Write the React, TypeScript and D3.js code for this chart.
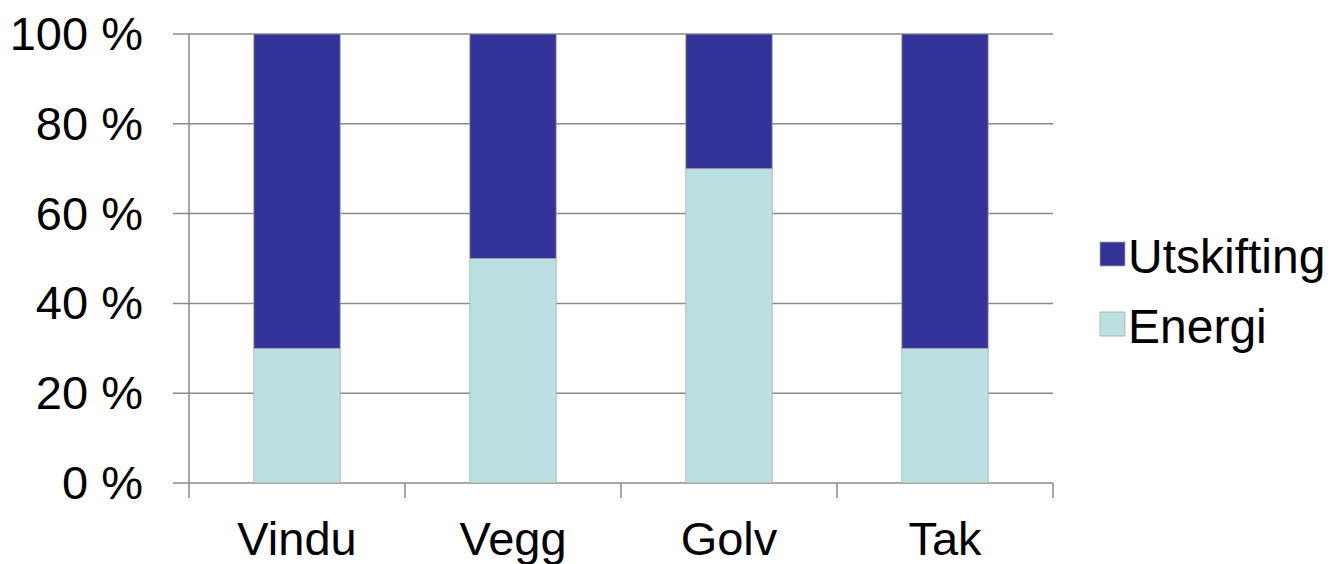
import React from "react";
import * as d3 from "d3";

// Stacked 100% columns: share of energy vs replacement per building part
const categories = ["Vindu", "Vegg", "Golv", "Tak"];
const energi = [30, 50, 70, 30];
const utskifting = [70, 50, 30, 70];
const yTicks = [0, 20, 40, 60, 80, 100];
const seriesNames = ["Utskifting", "Energi"];
const seriesColors = ["#333399", "#BAE0E2"];

const W = 1335;
const H = 564;
const FONT = "'Liberation Sans', Arial, Helvetica, sans-serif";

export default function App() {
  const left = 189;
  const right = 1053;
  const top = 34;
  const bottom = 483;

  const x = d3
    .scaleBand<string>()
    .domain(categories)
    .range([left, right])
    .paddingInner(0.6)
    .paddingOuter(0.3);
  const y = d3.scaleLinear().domain([0, 100]).range([bottom, top]);

  const rows = categories.map((c, i) => ({ cat: c, Energi: energi[i], Utskifting: utskifting[i] }));
  const stacked = d3.stack<any>().keys(["Energi", "Utskifting"])(rows);
  const colorOf: Record<string, string> = { Utskifting: seriesColors[0], Energi: seriesColors[1] };

  const step = x.step();
  const boundaries = d3.range(categories.length + 1).map((i) => left + i * step);

  return (
    <svg
      width={W}
      height={H}
      style={{ position: "absolute", left: 0, top: 0, background: "#fff" }}
      fontFamily={FONT}
    >
      {/* horizontal gridlines */}
      {yTicks.map((t) => (
        <line key={"g" + t} x1={173} x2={right} y1={y(t)} y2={y(t)} stroke="#8a8a8a" strokeWidth={1.5} />
      ))}
      {/* y axis line */}
      <line x1={left} x2={left} y1={top} y2={bottom} stroke="#8a8a8a" strokeWidth={1.5} />
      {/* x axis tick marks between categories */}
      {boundaries.map((b, i) => (
        <line key={"xt" + i} x1={b} x2={b} y1={bottom} y2={bottom + 15} stroke="#8a8a8a" strokeWidth={1.5} />
      ))}
      {/* bars */}
      {stacked.map((layer) =>
        layer.map((d, i) => (
          <rect
            key={layer.key + i}
            x={x(categories[i])}
            width={x.bandwidth()}
            y={y(d[1])}
            height={y(d[0]) - y(d[1])}
            fill={colorOf[layer.key]}
            stroke="#a9a9a9"
            strokeWidth={0.8}
          />
        ))
      )}
      {/* y tick labels */}
      {yTicks.map((t) => (
        <text key={"yl" + t} x={143} y={y(t) + 16} textAnchor="end" fontSize={47} fill="#000">
          {t} %
        </text>
      ))}
      {/* category labels */}
      {categories.map((c) => (
        <text
          key={"xl" + c}
          x={(x(c) as number) + x.bandwidth() / 2}
          y={555}
          textAnchor="middle"
          fontSize={47}
          fill="#000"
        >
          {c}
        </text>
      ))}
      {/* legend */}
      {seriesNames.map((s, i) => (
        <g key={"lg" + s} transform={`translate(1100, ${242 + i * 70})`}>
          <rect width={25} height={24} fill={seriesColors[i]} stroke="#a9a9a9" strokeWidth={0.8} />
          <text x={28} y={31} fontSize={48} fill="#000">
            {s}
          </text>
        </g>
      ))}
    </svg>
  );
}
